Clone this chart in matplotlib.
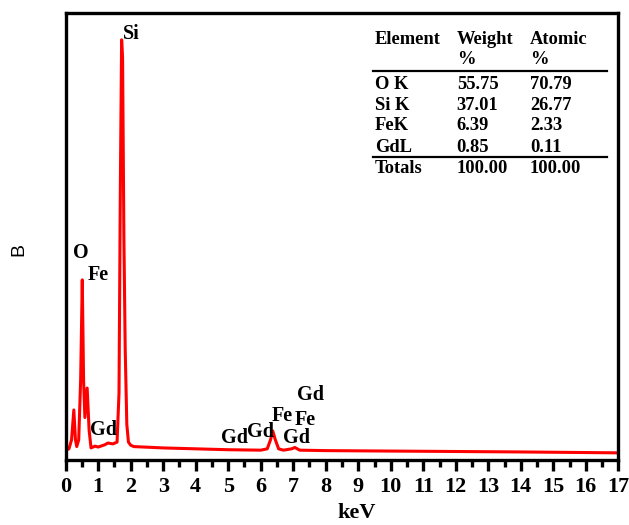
import matplotlib
matplotlib.use("Agg")
import matplotlib.pyplot as plt
from matplotlib.lines import Line2D

# ---- data ----
energy_kev = [0.00, 0.10, 0.18, 0.25, 0.30, 0.34, 0.40, 0.46, 0.51, 0.55, 0.59, 0.66, 0.72, 0.78,
              0.90, 1.00, 1.20, 1.30, 1.45, 1.58, 1.64, 1.68, 1.72, 1.75, 1.79, 1.83, 1.88,
              1.93, 2.00, 2.10, 3.0, 4.0, 5.0, 6.0, 6.2, 6.3, 6.37, 6.45, 6.55, 6.7, 6.95,
              7.05, 7.2, 8.0, 10.0, 12.0, 14.0, 17.0]
counts = [22, 25, 45, 112, 45, 30, 45, 179, 403, 179, 95, 161, 67, 27,
          31, 29, 34, 38, 36, 40, 150, 600, 940, 900, 500, 250, 80,
          40, 33, 30, 27, 25, 23, 22, 25, 45, 65, 45, 25, 22, 25,
          28, 22, 21, 20, 19, 18, 16]

peak_labels = ["Si", "O", "Fe", "Gd", "Gd", "Gd", "Fe", "Fe", "Gd", "Gd"]
label_x = [2.01, 0.45, 1.00, 1.17, 5.20, 5.98, 6.67, 7.38, 7.52, 7.10]
label_y = [953, 462, 413, 67, 49, 63, 98, 89, 145, 49]

tbl_header1 = ["Element", "Weight", "Atomic"]
tbl_header2 = ["", "%", "%"]
tbl_elements = ["O K", "Si K", "FeK", "GdL"]
tbl_weight = ["55.75", "37.01", "6.39", "0.85"]
tbl_atomic = ["70.79", "26.77", "2.33", "0.11"]
tbl_totals = ["Totals", "100.00", "100.00"]

xticks = list(range(0, 18))

# ---- figure ----
W, H = 629, 525
fig = plt.figure(figsize=(W / 100, H / 100), dpi=100)
ax = fig.add_axes([65.7 / W, 1 - 460 / H, (618.3 - 65.7) / W, (460 - 13) / H])

serif = "Liberation Serif"

ax.plot(energy_kev, counts, color="#ff0000", lw=2.2, solid_joinstyle="round")
ax.set_xlim(0, 17)
ax.set_ylim(0, 1000)
ax.set_xticks(xticks)
ax.set_xticks([x + 0.5 for x in xticks[:-1]], minor=True)
ax.set_yticks([])
for s in ax.spines.values():
    s.set_linewidth(2.4)
ax.tick_params(axis="x", which="major", direction="out", length=8, width=2.4, pad=4)
ax.tick_params(axis="x", which="minor", direction="out", length=5, width=2.4)
for lab in ax.get_xticklabels():
    lab.set_fontfamily(serif)
    lab.set_fontweight("bold")
    lab.set_fontsize(16)

fig.text(356.7 / W, 1 - 513 / H, "keV", ha="center", va="center",
         fontfamily=serif, fontweight="bold", fontsize=16)
fig.text(19 / W, 1 - 250 / H, "B", rotation=90, ha="center", va="center",
         fontfamily="Liberation Sans", fontsize=14)

for t, x, y in zip(peak_labels, label_x, label_y):
    ax.text(x, y, t, ha="center", va="center", fontfamily=serif,
            fontweight="bold", fontsize=14.5)

# ---- table ----
def ftxt(px, py, s):
    fig.text(px / W, 1 - py / H, s, ha="left", va="center", fontfamily=serif,
             fontweight="bold", fontsize=13.3)

cols = [375, 456.7, 530]
for c, s in zip(cols, tbl_header1):
    ftxt(c, 40, s)
for c, s in zip(cols, tbl_header2):
    if s:
        ftxt(c, 59, s)
row_y = [84.5, 105, 126, 147]
for y, e, w, a in zip(row_y, tbl_elements, tbl_weight, tbl_atomic):
    ftxt(cols[0], y, e)
    ftxt(cols[1], y, w)
    ftxt(cols[2], y, a)
for c, s in zip(cols, tbl_totals):
    ftxt(c, 168.5, s)
for ly in (71.2, 156.5):
    fig.add_artist(Line2D([373 / W, 607 / W], [1 - ly / H, 1 - ly / H], color="black", lw=1.6))

fig.savefig("out.png", dpi=100)
